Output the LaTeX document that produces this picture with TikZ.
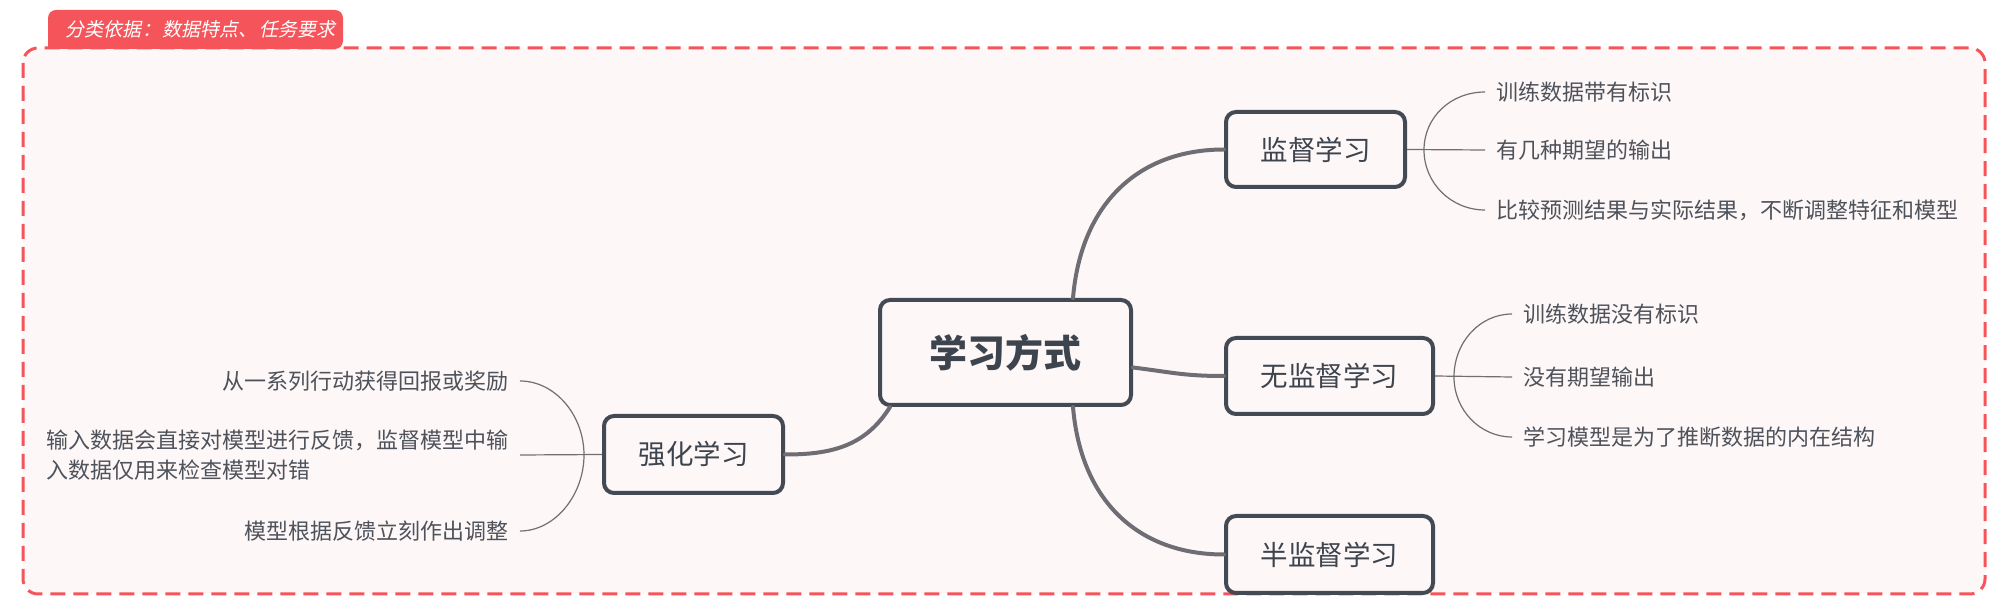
\documentclass[tikz,border=0pt]{standalone}
\usepackage{fontspec}
\setmainfont{Noto Sans CJK SC}
\newfontfamily\tabfont[FakeSlant=0.2]{Noto Sans CJK SC}
\usetikzlibrary{calc}

\definecolor{boxline}{RGB}{67,74,84}
\definecolor{boxtext}{RGB}{61,68,78}
\definecolor{mainline}{RGB}{110,109,115}
\definecolor{leafline}{RGB}{112,112,112}
\definecolor{leaftext}{RGB}{78,82,90}
\definecolor{framered}{RGB}{245,85,90}
\definecolor{framefill}{RGB}{253,247,247}

\tikzset{every picture/.style={line width=0.75pt}}
\tikzset{
  topicbox/.style={draw=boxline, line width=2pt, rounded corners=5pt, fill=framefill,
    text=boxtext, font=\fontsize{13.75pt}{16pt}\selectfont, inner sep=0pt},
  leaf/.style={text=leaftext, font=\fontsize{11pt}{15pt}\selectfont, inner xsep=5.5pt, inner ysep=0pt},
  mainconn/.style={draw=mainline, line width=2pt, line cap=round},
  leafconn/.style={draw=leafline, line width=0.6pt},
}

\begin{document}
\begin{tikzpicture}[x=0.5pt,y=0.5pt,yscale=-1,xscale=1]
    \useasboundingbox (0,0) rectangle (1999,614);

    %Shape: Frame [dashed]
    \draw [draw=framered, fill=framefill, line width=1.5pt, dash pattern={on 7.5pt off 4pt}, rounded corners=7.5pt] (23,48) rectangle (1985,594);
    %Shape: Tab
    \fill [framered] (48,49) [rounded corners=4pt] -- (48,10) -- (343,10) -- (343,49) [sharp corners] -- cycle;
    % Text Node
    \node (tab) at (65,29) [anchor=west, text=white, inner sep=0pt, font=\tabfont\fontsize{9.5pt}{11pt}\selectfont] {分类依据\makebox[1.1em][c]{：}数据特点\makebox[1.1em][l]{、}任务要求};

    % Topic Nodes
    \node (learn) at (1005.5,352.5) [topicbox, minimum width=125.5pt, minimum height=52.5pt,
      font=\fontsize{19pt}{22pt}\selectfont\bfseries] {学习方式};
    \node (sup) at (1315.5,149.5) [topicbox, minimum width=89.5pt, minimum height=37.5pt] {监督学习};
    \node (unsup) at (1329.5,376) [topicbox, minimum width=103.5pt, minimum height=38pt] {无监督学习};
    \node (semi) at (1329.5,554.5) [topicbox, minimum width=103.5pt, minimum height=38.5pt] {半监督学习};
    \node (rein) at (693.5,454.5) [topicbox, minimum width=89.5pt, minimum height=38.5pt] {强化学习};

    %Curve Lines: main branches
    \draw [mainconn] ([xshift=33.75pt]learn.north) .. controls +(8,-95) and +(-85,0) .. (sup.west);
    \draw [mainconn] ([yshift=7.5pt]learn.east) .. controls +(40,5) and +(-40,0) .. (unsup.west);
    \draw [mainconn] ([xshift=33.75pt]learn.south) .. controls +(8,95) and +(-85,0) .. (semi.west);
    \draw [mainconn] ([xshift=-57.75pt]learn.south) .. controls +(-25,40) and +(45,0) .. (rein.east);

    % Text Node: leaves of sup
    \node (sup1) at (1485,92) [leaf, anchor=west] {训练数据带有标识};
    \node (sup2) at (1485,150) [leaf, anchor=west] {有几种期望的输出};
    \node (sup3) at (1485,210) [leaf, anchor=west] {比较预测结果与实际结果，不断调整特征和模型};
    \coordinate (supb) at (1424,150);
    \draw [leafconn] (sup.east) -- (sup2.west);
    \draw [leafconn] (supb) .. controls +(0,-33) and +(-34,0) .. (sup1.west);
    \draw [leafconn] (supb) .. controls +(0,33) and +(-34,0) .. (sup3.west);

    % Text Node: leaves of unsup
    \node (uns1) at (1512,314) [leaf, anchor=west] {训练数据没有标识};
    \node (uns2) at (1512,377) [leaf, anchor=west] {没有期望输出};
    \node (uns3) at (1512,437) [leaf, anchor=west] {学习模型是为了推断数据的内在结构};
    \coordinate (unsb) at (1454,377);
    \draw [leafconn] (unsup.east) -- (uns2.west);
    \draw [leafconn] (unsb) .. controls +(0,-35) and +(-32,0) .. (uns1.west);
    \draw [leafconn] (unsb) .. controls +(0,33) and +(-32,0) .. (uns3.west);

    % Text Node: leaves of rein
    \node (rein1) at (520,381) [leaf, anchor=east] {从一系列行动获得回报或奖励};
    \node (rein2) at (520,455) [leaf, anchor=east, align=left] {输入数据会直接对模型进行反馈，监督模型中输\\入数据仅用来检查模型对错};
    \node (rein3) at (520,531) [leaf, anchor=east] {模型根据反馈立刻作出调整};
    \coordinate (reinb) at (584,455);
    \draw [leafconn] (rein.west) -- (rein2.east);
    \draw [leafconn] (reinb) .. controls +(0,-40) and +(35,0) .. (rein1.east);
    \draw [leafconn] (reinb) .. controls +(0,40) and +(35,0) .. (rein3.east);

\end{tikzpicture}
\end{document}
